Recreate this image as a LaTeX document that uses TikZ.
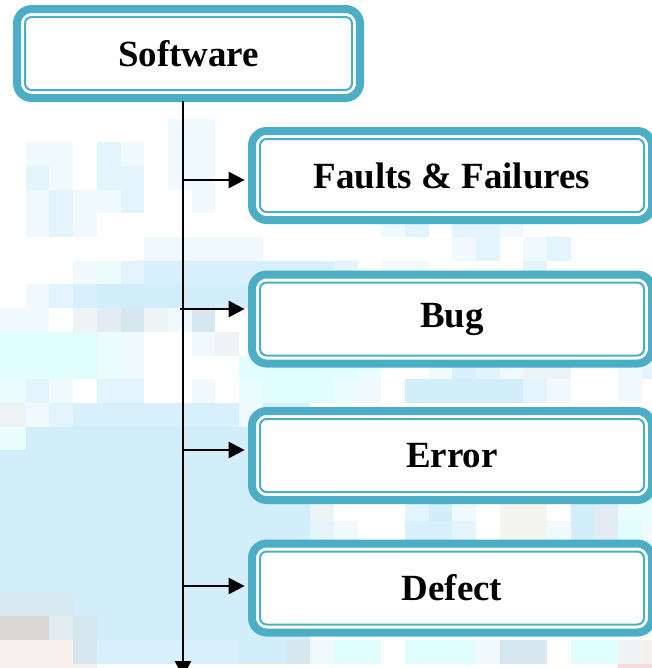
\documentclass[tikz,border=0pt]{standalone}
\usepackage{xcolor}
\usepackage{fontspec}
\setmainfont{Liberation Serif}
\usepackage{tikz}
\usetikzlibrary{calc}
\usetikzlibrary{arrows.meta}
\definecolor{frame}{HTML}{4BADC6}
\definecolor{bgblue}{HTML}{D2EEFB}
\definecolor{bgsky}{HTML}{D8F0FB}
\definecolor{bglight}{HTML}{E3F4FC}
\definecolor{bgpale}{HTML}{F0F9FD}
\definecolor{bgcyan}{HTML}{E0FEFE}
\definecolor{bgmist}{HTML}{EAFCFC}
\definecolor{bgstone}{HTML}{EEF3F5}
\definecolor{bgslate}{HTML}{D6E7EF}
\definecolor{bgsteel}{HTML}{E3EBF3}
\definecolor{bgfog}{HTML}{D9E9F2}
\definecolor{bggrey}{HTML}{D8D7D3}
\definecolor{bgsand}{HTML}{F6EFEA}
\definecolor{bgwarm}{HTML}{F4F5EF}
\definecolor{bgpink}{HTML}{F8DADA}
\tikzstyle{term} = [rectangle, rounded corners=11pt, draw=frame, line width=6pt, fill=white,
  minimum height=66.75pt, font=\bfseries\fontsize{27.7}{32}\selectfont,
  path picture={\draw[frame, line width=1.5pt, rounded corners=5pt]
    ([shift={(6pt,-6pt)}]path picture bounding box.north west) rectangle
    ([shift={(-6pt,6pt)}]path picture bounding box.south east);}]
\tikzstyle{flow} = [-{Triangle[length=12pt,width=12pt]}, line width=1.8pt, shorten >=2.5pt]

\begin{document}
\begin{tikzpicture}[x=0.75pt, y=-0.75pt]
\useasboundingbox (0,0) rectangle (652,668);
% washed-out mosaic behind the chart
\fill[bgblue] (0,{23.7*17}) rectangle (310,640);
\foreach \c/\r/\n/\k in {7/5/2/bgpale,
  1/6/2/bgpale, 4/6/1/bglight, 5/6/1/bgpale, 7/6/2/bgpale,
  1/7/1/bglight, 2/7/1/bgpale, 4/7/2/bglight, 7/7/2/bgpale,
  1/8/1/bgpale, 2/8/1/bglight, 3/8/2/bgpale, 5/8/1/bglight, 8/8/1/bgpale,
  1/9/1/bgpale, 2/9/1/bglight, 3/9/1/bgpale, 16/9/1/bgpale, 17/9/1/bglight, 19/9/2/bglight, 21/9/1/bgpale,
  6/10/5/bgpale, 19/10/1/bgpale, 20/10/1/bglight, 22/10/1/bgpale, 23/10/1/bglight,
  3/11/1/bgpale, 4/11/1/bgmist, 5/11/1/bglight, 6/11/8/bgsky, 14/11/1/bglight, 16/11/2/bgpale, 22/11/1/bglight,
  1/12/1/bgpale, 2/12/1/bglight, 3/12/1/bgsky, 4/12/9/bgblue,
  -1/13/3/bgpale, 3/13/1/bgstone, 4/13/1/bgsteel, 5/13/1/bgslate, 6/13/1/bgstone, 7/13/1/bgpale, 8/13/1/bgslate,
  -1/14/5/bgcyan, 4/14/1/bgmist, 5/14/1/bgpale, 8/14/1/bgpale, 9/14/1/bgstone,
  -1/15/5/bgcyan, 4/15/1/bgmist, 5/15/1/bgpale, 10/15/5/bgcyan, 15/15/1/bgmist, 18/15/1/bgpale,
  19/15/1/bgsky, 20/15/1/bglight, 21/15/1/bgpale, 22/15/2/bgstone, 26/15/1/bgpale, 27/15/1/bglight,
  -1/16/2/bgmist, 1/16/1/bglight, 2/16/1/bgpale, 4/16/2/bglight, 8/16/1/bgpale, 10/16/1/bgmist,
  11/16/3/bgcyan, 14/16/1/bgmist, 15/16/1/bgpale, 17/16/5/bgblue, 22/16/1/bglight, 23/16/1/bgpale, 26/16/1/bgpale,
  -1/17/2/bgstone, 1/17/1/bgpale, 2/17/1/bglight, 3/17/3/bgsky, 6/17/4/bgsky, 10/17/1/bgpale,
  -1/18/2/bgmist,
  13/21/1/bgstone, 17/21/1/bglight, 18/21/1/bgblue, 19/21/1/bgpale, 21/21/2/bgwarm, 24/21/1/bgblue,
  25/21/1/bgsteel, 26/21/2/bgmist,
  13/22/1/bglight, 14/22/1/bgpale, 17/22/2/bgsky, 19/22/1/bglight, 21/22/2/bgwarm, 23/22/1/bgpale,
  24/22/1/bgblue, 25/22/1/bgsteel, 26/22/1/bgcyan, 27/22/1/bgpale,
  -1/25/4/bgfog,
  -1/26/3/bggrey, 2/26/1/bgsteel, 3/26/1/bgslate,
  -1/27/4/bgsand, 3/27/1/bgslate, 4/27/6/bgsky, 10/27/2/bgblue, 12/27/1/bgslate, 13/27/1/bgpale,
  14/27/2/bgcyan, 17/27/3/bgcyan, 20/27/1/bgpale, 21/27/2/bgslate, 24/27/2/bgcyan, 26/27/1/bgstone, 27/27/1/bgsand,
  -1/28/5/bgsand, 26/28/2/bgpink}
  \fill[\k] ({2+23.7*\c},{23.7*\r}) rectangle ++({23.7*\n},23.7);

\node [term, minimum width=257.25pt] (soft) at (188.5, 53.5) {Software};
\node [term, minimum width=300pt] (faults) at (452, 175.5) {Faults \& Failures};
\node [term, minimum width=300pt] (bug) at (452, 319) {Bug};
\node [term, minimum width=300pt] (error) at (452, 455.5) {Error};
\node [term, minimum width=300pt] (defect) at (452, 588) {Defect};

\coordinate (top) at (183, 101);
\coordinate (end) at (183, 677);
\coordinate (j1) at (183, 180);
\coordinate (j2) at (180, 309);
\coordinate (j3) at (183, 450);
\coordinate (j4) at (183, 586);

\draw [flow, shorten >=0pt] (top) -- (end);
\draw [flow] (j1) -- (j1 -| faults.west);
\draw [flow] (j2) -- (j2 -| bug.west);
\draw [flow] (j3) -- (j3 -| error.west);
\draw [flow] (j4) -- (j4 -| defect.west);
\end{tikzpicture}
\end{document}
